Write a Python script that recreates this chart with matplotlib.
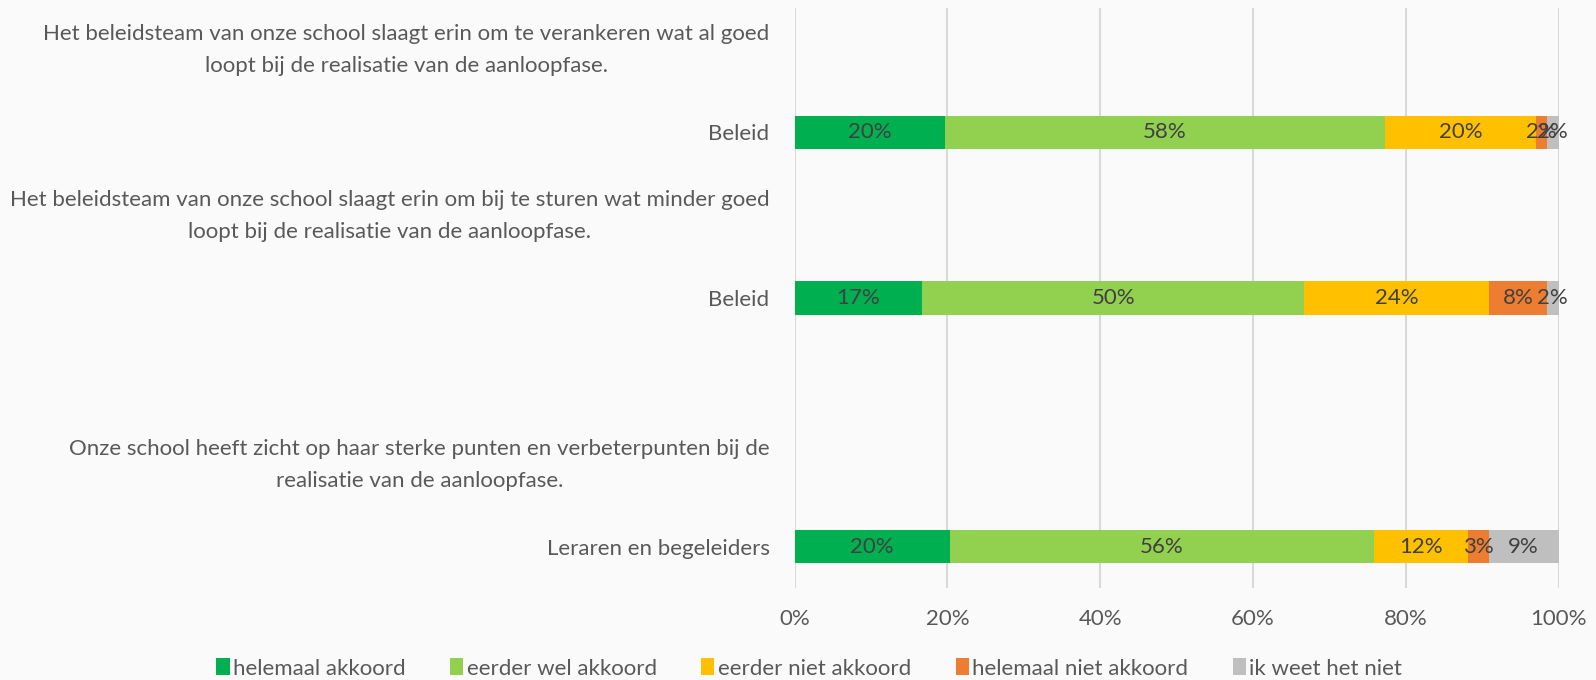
import matplotlib
matplotlib.use("Agg")
import matplotlib.pyplot as plt
import matplotlib.transforms as mtransforms
import numpy as np

plt.rcParams['font.family'] = ['Lato', 'DejaVu Sans']

# ---- data ----
row_labels = [
    "Het beleidsteam van onze school slaagt erin om te verankeren wat al goed\nloopt bij de realisatie van de aanloopfase.",
    "Beleid",
    "Het beleidsteam van onze school slaagt erin om bij te sturen wat minder goed\nloopt bij de realisatie van de aanloopfase.",
    "Beleid",
    "",
    "Onze school heeft zicht op haar sterke punten en verbeterpunten bij de\nrealisatie van de aanloopfase.",
    "Leraren en begeleiders",
]
bar_rows = [1, 3, 6]
series_names = ["helemaal akkoord", "eerder wel akkoord", "eerder niet akkoord",
                "helemaal niet akkoord", "ik weet het niet"]
helemaal_akkoord = [19.7, 16.7, 20.3]
eerder_wel_akkoord = [57.6, 50.0, 55.6]
eerder_niet_akkoord = [19.7, 24.2, 12.3]
helemaal_niet_akkoord = [1.5, 7.6, 2.7]
weet_niet = [1.5, 1.5, 9.1]
series_values = [helemaal_akkoord, eerder_wel_akkoord, eerder_niet_akkoord,
                 helemaal_niet_akkoord, weet_niet]
colors = ["#00B050", "#92D050", "#FFC000", "#ED7D31", "#BFBFBF"]
xticks = [0, 20, 40, 60, 80, 100]
xtick_labels = ["0%", "20%", "40%", "60%", "80%", "100%"]

FS = 16
bg = "#FAFAFA"
fig = plt.figure(figsize=(15.96, 6.8), dpi=100, facecolor=bg)
ax = fig.add_axes([794.6/1596, 1-588/680, (1558.5-794.6)/1596, (588-8)/680])
ax.set_facecolor(bg)

left = np.zeros(len(bar_rows))
for name, vals, col in zip(series_names, series_values, colors):
    vals = np.array(vals)
    bars = ax.barh(bar_rows, vals, left=left, height=0.4, color=col, label=name, zorder=3)
    for b, v in zip(bars, vals):
        ax.text(b.get_x() + b.get_width()/2, b.get_y() + b.get_height()/2,
                f"{v:.0f}%", ha='center', va='center', fontsize=FS,
                color="#404040", zorder=4)
    left += vals

ax.set_xlim(0, 100)
ax.set_ylim(6.5, -0.5)
ax.set_xticks(xticks)
ax.set_xticklabels(xtick_labels)
ax.set_yticks(range(len(row_labels)))
ax.set_yticklabels(row_labels, multialignment='center', linespacing=1.75)
ax.tick_params(axis='both', length=0, labelsize=FS, labelcolor="#595959")
ax.tick_params(axis='y', pad=18)
ax.tick_params(axis='x', pad=15)
ax.grid(axis='x', color="#D9D9D9", linewidth=1.5, zorder=0)
for s in ax.spines.values():
    s.set_visible(False)

# shift multi-line header labels slightly upward
shift = mtransforms.ScaledTranslation(0, 5/72, fig.dpi_scale_trans)
for lab in ax.get_yticklabels():
    if "\n" in lab.get_text():
        lab.set_transform(lab.get_transform() + shift)

leg = fig.legend(loc='center', bbox_to_anchor=(0.507, 0.017), ncol=5, frameon=False,
                 fontsize=FS, handlelength=0.6, handleheight=0.8, handletextpad=0.15,
                 columnspacing=2.0, labelcolor="#595959")

fig.savefig("out.png", dpi=100, facecolor=bg)
